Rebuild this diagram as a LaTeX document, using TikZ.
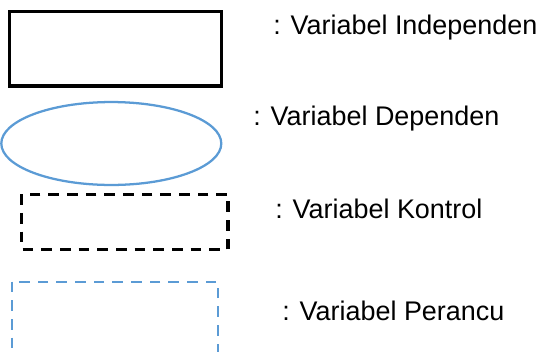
\documentclass[tikz,border=0pt]{standalone}
\usepackage{fontspec}
\setmainfont{Liberation Sans}
\usetikzlibrary{positioning}

\definecolor{legendblue}{RGB}{91,155,213}

\begin{document}
\begin{tikzpicture}[x=0.75pt,y=-0.75pt]

	% ---- styles

	\tikzset{
		boxline/.style={line width=2.3pt, line join=miter},
		blueline/.style={legendblue, line width=1.7pt},
		dashline/.style={dash pattern=on 8pt off 6pt},
		legendtext/.style={anchor=base west, inner sep=0pt,
			font=\fontsize{20.2pt}{24pt}\selectfont},
	}

	% ---- frame

	\useasboundingbox (0,0) rectangle (538,351);
	\clip (0,0) rectangle (538,351);

	% ---- shapes

	\draw[boxline] (9.5,11.3) rectangle (221.5,86);
	\draw[blueline] (111.3,143.5) ellipse [x radius=82.5pt, y radius=31.1pt];
	\draw[boxline, dashline] (21.7,194.3) rectangle (228,249.3);
	\draw[blueline, dashline] (11.7,281.7) rectangle (218.3,420);

	% ---- labels

	\node[legendtext] (indep) at (273,34) {: Variabel Independen};
	\node[legendtext] (dep) at (253,125) {: Variabel Dependen};
	\node[legendtext] (kontrol) at (275,218) {: Variabel Kontrol};
	\node[legendtext] (perancu) at (282,320) {: Variabel Perancu};

\end{tikzpicture}
\end{document}
